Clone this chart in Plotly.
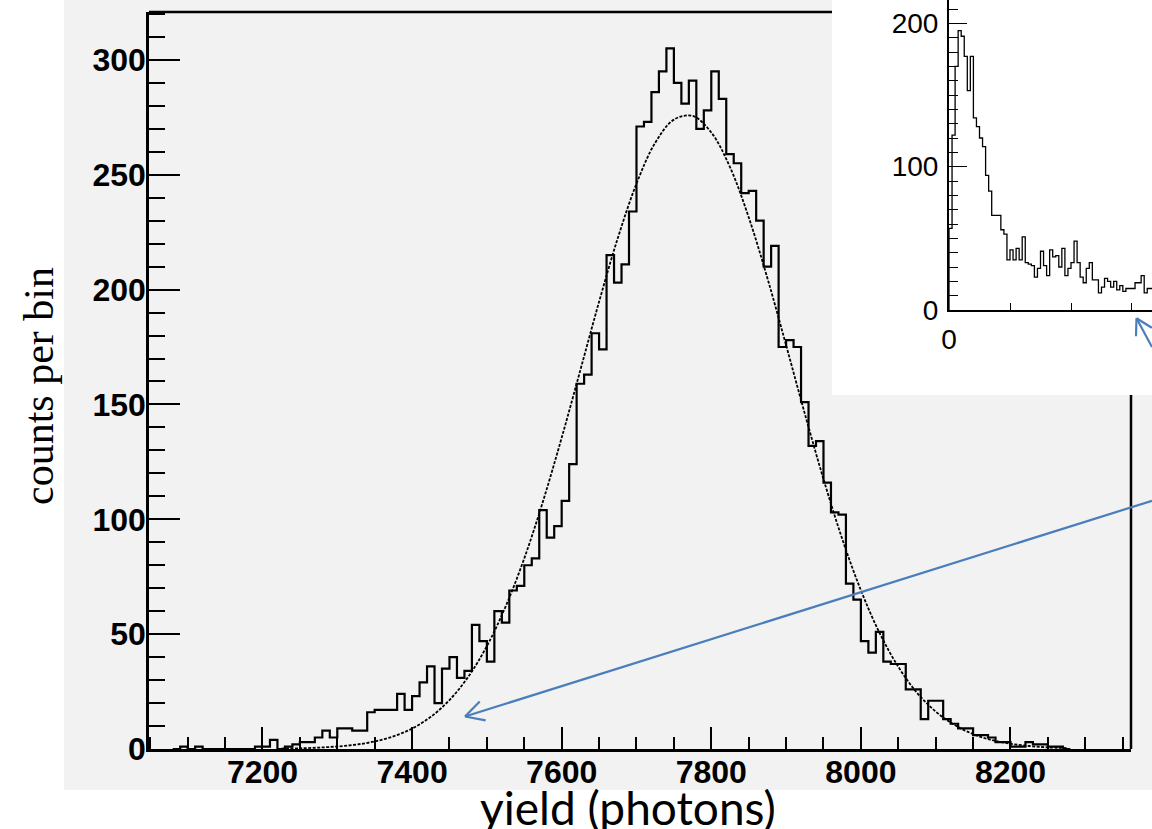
import math
import plotly.graph_objects as go

# ---------------- data ----------------
# main histogram: bins of 10 photons starting at 7080
main_bin_start = 7080
main_bin_width = 10
main_counts = [
    0, 1, 0, 1, 0, 0, 0, 0, 0, 0, 0,          # 7080-7180
    1, 1, 4, 0, 1, 2, 3, 3, 5, 8, 5,          # 7190-7290
    9, 9, 8, 8, 16, 17, 17, 17, 24, 17,       # 7300-7390
    23, 29, 36, 20, 35, 40, 31, 34, 54, 47,   # 7400-7490
    38, 60, 55, 69, 71, 80, 83, 104, 92, 97,  # 7500-7590
    108, 124, 159, 163, 181, 174, 215, 203, 211, 234,  # 7600-7690
    271, 273, 286, 295, 305, 290, 281, 291, 270, 278,  # 7700-7790
    295, 283, 259, 255, 242, 243, 230, 210, 219, 175,  # 7800-7890
    178, 175, 151, 132, 134, 116, 103, 102, 72, 65,    # 7900-7990
    47, 42, 51, 38, 37, 37, 26, 26, 13, 21,            # 8000-8090
    21, 13, 11, 9, 9, 6, 6, 5, 3, 3,                   # 8100-8190
    1, 1, 3, 2, 2, 1, 1, 0,                            # 8200-8270
]

# fitted curve
fit_x = [7225, 7250, 7275, 7300, 7325, 7350, 7375, 7400, 7425, 7450, 7475,
         7500, 7525, 7550, 7575, 7600, 7625, 7650, 7675, 7700, 7725, 7750,
         7775, 7800, 7825, 7850, 7875, 7900, 7925, 7950, 7975, 8000, 8025,
         8050, 8075, 8100, 8125, 8150, 8175, 8200, 8225, 8250, 8275]
fit_y = [0.2, 0.3, 0.6, 1.1, 1.9, 3.3, 5.5, 8.9, 14.0, 21.3, 31.4,
         44.8, 62.0, 83.0, 107.8, 135.5, 165.0, 194.7, 222.4, 246.1, 263.9, 274.0,
         275.6, 268.4, 253.3, 231.5, 205.0, 175.8, 146.0, 117.5, 91.5, 69.1, 50.5,
         35.8, 24.5, 16.3, 10.5, 6.5, 3.9, 2.3, 1.3, 0.7, 0.4]

main_x_ticks = [7200, 7400, 7600, 7800, 8000, 8200]
main_y_ticks = [0, 50, 100, 150, 200, 250, 300]

# inset histogram (full spectrum), bins of 50 starting at 0
inset_bin_start = 0
inset_bin_width = 50
inset_counts = [57, 122, 170, 195, 191, 177, 153, 177, 134, 128, 120, 114, 94, 83,
                66, 66, 66, 56, 53, 35, 42, 35, 43, 35, 51, 33, 32, 31, 23, 29,
                41, 31, 24, 42, 37, 38, 30, 43, 24, 29, 33, 48, 33, 23, 19, 29,
                33, 21, 21, 12, 16, 22, 20, 16, 20, 14, 17, 13, 15, 15, 15, 19,
                19, 24, 12, 15, 15]
inset_x_ticks = [0, 1000, 2000, 3000]
inset_x_ticktext = ["0", "", "", ""]
inset_y_ticks = [0, 100, 200]

# ---------------- figure geometry (pixels) ----------------
W, H = 1152, 829
ML, MR, MT, MB = 149, 0, 0, 80
PW, PH = W - ML - MR, H - MT - MB


def px(xp):
    return (xp - ML) / PW


def py(yp):
    return 1 - (yp - MT) / PH


def step_xy(start, width, counts):
    edges = [start + i * width for i in range(len(counts) + 1)]
    xs = [edges[0]] + edges[:-1] + [edges[-1], edges[-1]]
    ys = [0] + list(counts) + [counts[-1], 0]
    return xs, ys


mx, my = step_xy(main_bin_start, main_bin_width, main_counts)
ix, iy = step_xy(inset_bin_start, inset_bin_width, inset_counts)

fig = go.Figure()
fig.add_trace(go.Scatter(x=mx, y=my, mode="lines", line=dict(color="black", width=2.2, shape="hv"),
                         xaxis="x", yaxis="y", showlegend=False, hoverinfo="skip"))
fig.add_trace(go.Scatter(x=fit_x, y=fit_y, mode="lines",
                         line=dict(color="black", width=1.8, dash="3px,1.5px", shape="spline"),
                         xaxis="x", yaxis="y", showlegend=False, hoverinfo="skip"))
fig.add_trace(go.Scatter(x=ix, y=iy, mode="lines", line=dict(color="black", width=1.3, shape="hv"),
                         xaxis="x2", yaxis="y2", showlegend=False, hoverinfo="skip"))

main_font = dict(family="Liberation Sans, Arial, sans-serif", size=32, color="black", weight="bold")
inset_font = dict(family="Liberation Sans, Arial, sans-serif", size=28, color="black")

fig.update_layout(
    width=W, height=H, autosize=False,
    margin=dict(l=ML, r=MR, t=MT, b=MB, pad=0),
    paper_bgcolor="white", plot_bgcolor="rgba(0,0,0,0)",
    xaxis=dict(domain=[0, px(1131)], range=[7048.3, 8361.1], anchor="y",
               tickvals=main_x_ticks, ticks="inside", ticklen=22, tickwidth=2, tickcolor="black",
               minor=dict(dtick=50, tick0=7000, ticks="inside", ticklen=12, tickwidth=2, tickcolor="black"),
               showline=True, linewidth=2.5, linecolor="black", showgrid=False, zeroline=False,
               tickfont=main_font, ticklabelstandoff=-7),
    yaxis=dict(domain=[0, py(12)], range=[0, 320.85], anchor="x",
               tickvals=main_y_ticks, ticks="inside", ticklen=31, tickwidth=2, tickcolor="black",
               minor=dict(dtick=10, tick0=0, ticks="inside", ticklen=16, tickwidth=2, tickcolor="black"),
               showline=True, linewidth=2.5, linecolor="black", showgrid=False, zeroline=False,
               tickfont=main_font, ticklabelstandoff=-6),
    xaxis2=dict(domain=[px(949), 1.0], range=[0, 3328], anchor="y2",
                tickvals=inset_x_ticks, ticktext=inset_x_ticktext, ticks="inside", ticklen=7,
                tickwidth=1.3, tickcolor="black",
                showline=True, linewidth=1.5, linecolor="black", showgrid=False, zeroline=False,
                tickfont=inset_font, ticklabelstandoff=4),
    yaxis2=dict(domain=[py(310), 1.0], range=[0, 216.3], anchor="x2",
                tickvals=inset_y_ticks, ticks="inside", ticklen=18, tickwidth=1.3, tickcolor="black",
                minor=dict(dtick=10, tick0=0, ticks="inside", ticklen=9, tickwidth=1.3, tickcolor="black"),
                showline=True, linewidth=2, linecolor="black", showgrid=False, zeroline=False,
                tickfont=inset_font, ticklabelstandoff=3),
)

shapes = []
# gray picture background
shapes.append(dict(type="rect", xref="paper", yref="paper", x0=px(64), x1=px(1152), y0=py(790), y1=py(0),
                   fillcolor="#f2f2f2", line=dict(width=0), layer="below"))
# main frame top / right
shapes.append(dict(type="line", xref="paper", yref="paper", x0=px(149), x1=px(1131), y0=py(12), y1=py(12),
                   line=dict(color="black", width=2.5), layer="below"))
shapes.append(dict(type="line", xref="paper", yref="paper", x0=px(1131), x1=px(1131), y0=py(12), y1=py(749),
                   line=dict(color="black", width=2.5), layer="below"))
# white inset panel
shapes.append(dict(type="rect", xref="paper", yref="paper", x0=px(832), x1=px(1152), y0=py(395), y1=py(0),
                   fillcolor="white", line=dict(width=0), layer="below"))


def arrow(tail, tip, head_len, head_ang, color="#4A7EBB", width=2.2):
    out = []
    out.append(dict(type="line", xref="paper", yref="paper",
                    x0=px(tail[0]), y0=py(tail[1]), x1=px(tip[0]), y1=py(tip[1]),
                    line=dict(color=color, width=width), layer="above"))
    ang = math.atan2(tail[1] - tip[1], tail[0] - tip[0])
    for s in (-1, 1):
        a = ang + s * math.radians(head_ang)
        ex = tip[0] + head_len * math.cos(a)
        ey = tip[1] + head_len * math.sin(a)
        out.append(dict(type="line", xref="paper", yref="paper",
                        x0=px(tip[0]), y0=py(tip[1]), x1=px(ex), y1=py(ey),
                        line=dict(color=color, width=width), layer="above"))
    return out


shapes += arrow((1152, 500.8), (465, 716.5), 21, 28)
shapes += arrow((1152, 347), (1136.5, 318.3), 18, 30)
fig.update_layout(shapes=shapes)

fig.add_annotation(text="counts per bin", xref="paper", yref="paper", x=px(39), y=py(386),
                   showarrow=False, textangle=-90, xanchor="center", yanchor="middle",
                   font=dict(family="Liberation Serif, Times New Roman, serif", size=42, color="black"))
fig.add_annotation(text="yield (photons)", xref="paper", yref="paper", x=px(628), y=py(807),
                   showarrow=False, xanchor="center", yanchor="middle",
                   font=dict(family="Lato, sans-serif", size=46, color="black"))

fig.write_html("out.html", config={"displayModeBar": False},
               post_script="document.body.style.margin='0';document.body.style.overflow='hidden';")
